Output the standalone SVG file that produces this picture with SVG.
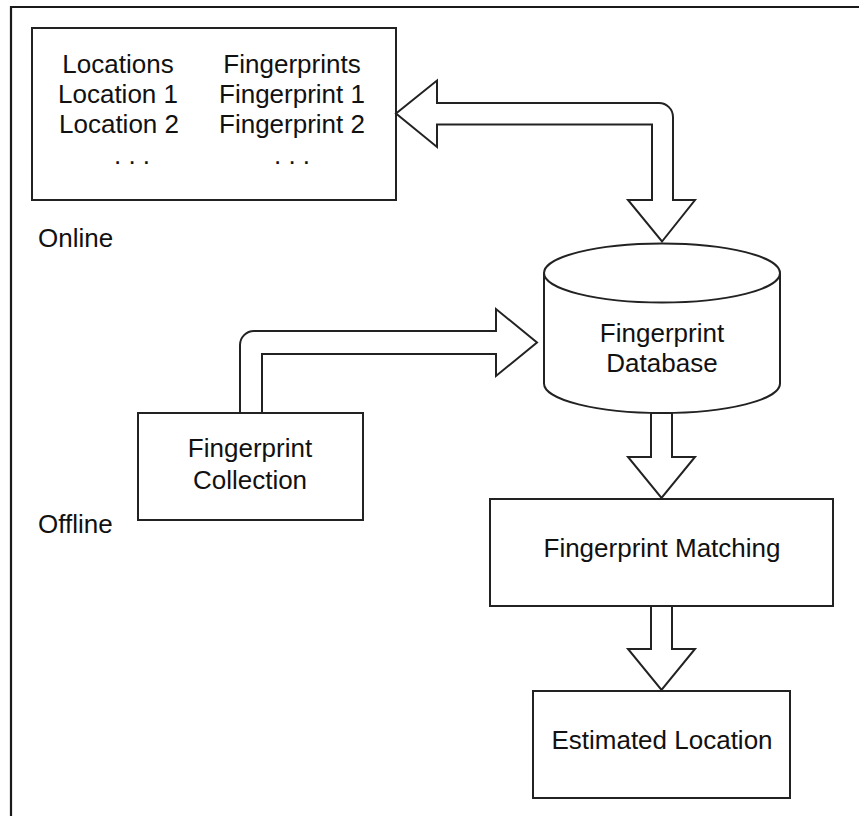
<svg xmlns="http://www.w3.org/2000/svg" width="859" height="816" viewBox="0 0 859 816">
  <style>
    .box { fill: #ffffff; stroke: #222222; stroke-width: 2; }
    .arrow { fill: #ffffff; stroke: #222222; stroke-width: 2; stroke-linejoin: miter; }
    .frame { fill: none; stroke: #1a1a1a; stroke-width: 2.2; }
    text { font-family: "Liberation Sans", Arial, sans-serif; font-size: 26px; fill: #111111; }
    .c { text-anchor: middle; }
  </style>

  <rect width="859" height="816" fill="#ffffff"/>

  <!-- outer frame: only the top and left edges fall inside the canvas -->
  <path class="frame" d="M 11 816 L 11 7 L 859 7"/>

  <g id="fingerprint-table">
    <rect class="box" x="32" y="28" width="364" height="172"/>
    <text class="c" x="118" y="73">Locations</text>
    <text class="c" x="118" y="103">Location 1</text>
    <text class="c" x="119" y="133">Location 2</text>
    <text class="c" x="132" y="164">. . .</text>
    <text class="c" x="292" y="73">Fingerprints</text>
    <text class="c" x="292" y="103">Fingerprint 1</text>
    <text class="c" x="292" y="133">Fingerprint 2</text>
    <text class="c" x="292" y="164">. . .</text>
  </g>

  <g id="label-online">
    <text x="38" y="247">Online</text>
  </g>

  <g id="label-offline">
    <text x="38" y="533">Offline</text>
  </g>

  <g id="fingerprint-database">
    <path class="box" d="M 544 273 A 118 29.5 0 0 1 780 273 L 780 383.5 A 118 29.5 0 0 1 544 383.5 Z"/>
    <path class="box" style="fill:none" d="M 544 273 A 118 29.5 0 0 0 780 273"/>
    <text class="c" x="662" y="342">Fingerprint</text>
    <text class="c" x="662" y="372">Database</text>
  </g>

  <g id="fingerprint-collection">
    <rect class="box" x="138" y="413" width="225" height="107"/>
    <text class="c" x="250" y="457">Fingerprint</text>
    <text class="c" x="250" y="489">Collection</text>
  </g>

  <g id="fingerprint-matching">
    <rect class="box" x="490" y="499" width="343" height="107"/>
    <text class="c" x="662" y="557">Fingerprint Matching</text>
  </g>

  <g id="estimated-location">
    <rect class="box" x="533" y="691" width="257" height="107"/>
    <text class="c" x="662" y="749">Estimated Location</text>
  </g>

  <g id="connectors">
    <!-- table <-> database (two-headed block arrow) -->
    <path class="arrow" d="M 396 113.5 L 437 80.5 L 437 103 L 659 103 A 14 14 0 0 1 673 117 L 673 200 L 695 200 L 662 241.5 L 628 200 L 652 200 L 652 124.5 L 437 124.5 L 437 147 Z"/>
    <!-- collection -> database -->
    <path class="arrow" d="M 240 413 L 240 345 A 14 14 0 0 1 254 331 L 496 331 L 496 309 L 537 342.5 L 496 376 L 496 354 L 262 354 L 262 413 Z"/>
    <!-- database -> matching -->
    <path class="arrow" d="M 651 413 L 651 457 L 628 457 L 661.5 498 L 695 457 L 672 457 L 672 413 Z"/>
    <!-- matching -> estimated location -->
    <path class="arrow" d="M 651 606 L 651 649 L 628 649 L 661.5 690 L 695 649 L 672 649 L 672 606 Z"/>
  </g>
</svg>
